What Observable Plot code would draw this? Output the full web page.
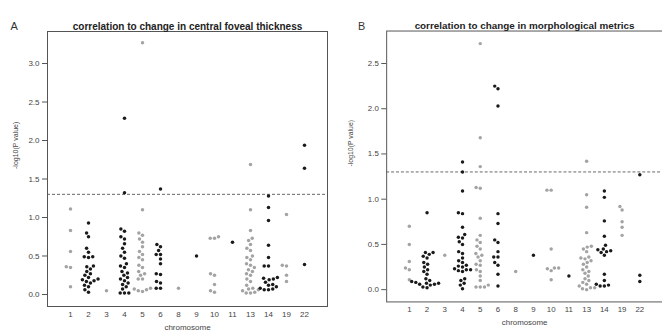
<!DOCTYPE html>
<html>
<head>
<meta charset="utf-8">
<script src="https://cdn.jsdelivr.net/npm/d3@7"></script>
<script src="https://cdn.jsdelivr.net/npm/@observablehq/plot@0.6"></script>
<style>
  html, body { margin: 0; padding: 0; background: #fff; overflow: hidden; }
  #wrap { display: flex; width: 662px; height: 331px; overflow: hidden; }
  .panel { flex: none; position: relative; height: 331px; overflow: hidden; }
  .panel svg { position: absolute; left: 0; top: 0; }
</style>
</head>
<body>
<div id="wrap"><div class="panel" id="a"></div><div class="panel" id="b"></div></div>
<script>
const chromosomes = ["1","2","3","4","5","6","8","9","10","11","13","14","19","22"];
const shades = ["#a3a3a3","#1a1a1a","#a3a3a3","#1a1a1a","#a3a3a3","#1a1a1a","#a3a3a3","#1a1a1a","#a3a3a3","#1a1a1a","#a3a3a3","#1a1a1a","#a3a3a3","#1a1a1a"];

// Panel A: -log10(P) for correlation to change in central foveal thickness, per chromosome
const cftValues = [
  [1.11, 0.83, 0.56, 0.36, 0.35, 0.10],
  [0.93, 0.80, 0.75, 0.60, 0.55, 0.49, 0.49, 0.48, 0.37, 0.36, 0.33, 0.30, 0.27, 0.25, 0.22, 0.20, 0.19, 0.18, 0.17, 0.15, 0.12, 0.10, 0.06, 0.03],
  [0.05],
  [2.29, 1.32, 0.85, 0.82, 0.75, 0.72, 0.66, 0.60, 0.55, 0.50, 0.47, 0.40, 0.37, 0.35, 0.30, 0.28, 0.25, 0.22, 0.20, 0.18, 0.15, 0.13, 0.10, 0.07, 0.02, 0.02, 0.02],
  [3.27, 1.10, 0.80, 0.77, 0.72, 0.68, 0.62, 0.56, 0.52, 0.48, 0.45, 0.38, 0.35, 0.30, 0.27, 0.25, 0.20, 0.20, 0.08, 0.07, 0.06, 0.05, 0.04],
  [1.37, 0.65, 0.62, 0.57, 0.52, 0.52, 0.46, 0.40, 0.27, 0.26, 0.17, 0.15, 0.08, 0.08],
  [0.08],
  [0.50],
  [0.75, 0.73, 0.73, 0.27, 0.25, 0.13, 0.05, 0.03],
  [0.68],
  [1.69, 1.10, 0.83, 0.73, 0.70, 0.65, 0.60, 0.57, 0.50, 0.48, 0.45, 0.40, 0.38, 0.35, 0.32, 0.30, 0.27, 0.25, 0.20, 0.17, 0.12, 0.08, 0.07, 0.06, 0.05, 0.03, 0.02, 0.02],
  [1.28, 1.13, 0.96, 0.64, 0.48, 0.37, 0.37, 0.22, 0.21, 0.20, 0.19, 0.16, 0.13, 0.12, 0.10, 0.08, 0.07, 0.06, 0.06],
  [1.04, 0.38, 0.37, 0.25, 0.17],
  [1.94, 1.64, 0.39]
];

// Panel B: -log10(P) for correlation to change in morphological metrics, per chromosome
const morphValues = [
  [0.70, 0.50, 0.31, 0.24, 0.22, 0.11],
  [0.85, 0.41, 0.41, 0.39, 0.37, 0.35, 0.30, 0.28, 0.25, 0.22, 0.20, 0.17, 0.12, 0.10, 0.09, 0.08, 0.07, 0.07, 0.06, 0.06, 0.05, 0.03, 0.02],
  [0.38],
  [1.41, 1.30, 1.09, 0.85, 0.84, 0.69, 0.61, 0.58, 0.57, 0.53, 0.50, 0.42, 0.40, 0.35, 0.32, 0.30, 0.27, 0.26, 0.25, 0.23, 0.22, 0.22, 0.21, 0.20, 0.12, 0.10, 0.07, 0.05, 0.01],
  [2.72, 1.68, 1.36, 1.13, 1.12, 0.79, 0.60, 0.55, 0.52, 0.48, 0.45, 0.40, 0.38, 0.36, 0.32, 0.28, 0.27, 0.22, 0.20, 0.15, 0.10, 0.05, 0.03, 0.03, 0.03],
  [2.25, 2.22, 2.03, 0.84, 0.73, 0.55, 0.52, 0.42, 0.36, 0.36, 0.30, 0.27, 0.17, 0.04],
  [0.20],
  [0.38],
  [1.10, 1.10, 0.45, 0.24, 0.24, 0.23, 0.21, 0.11],
  [0.15],
  [1.42, 1.05, 0.91, 0.63, 0.48, 0.47, 0.45, 0.42, 0.36, 0.35, 0.34, 0.32, 0.30, 0.28, 0.25, 0.22, 0.20, 0.18, 0.15, 0.12, 0.10, 0.08, 0.06, 0.04, 0.02, 0.02, 0.01, 0.00],
  [1.09, 1.02, 0.76, 0.59, 0.49, 0.45, 0.44, 0.43, 0.42, 0.41, 0.38, 0.17, 0.10, 0.06, 0.05, 0.04, 0.04],
  [0.92, 0.88, 0.75, 0.69, 0.60],
  [1.27, 0.16, 0.09]
];

const yTicksA = [0, 0.5, 1.0, 1.5, 2.0, 2.5, 3.0];
const yTicksB = [0, 0.5, 1.0, 1.5, 2.0, 2.5];
const threshold = -Math.log10(0.05);

function toRows(values) {
  const rows = [];
  chromosomes.forEach((c, i) => {
    values[i].slice().sort((a, b) => a - b).forEach(v => rows.push({chr: c, v}));
  });
  return rows;
}

const FONT = "'Liberation Sans', Arial, Helvetica, sans-serif";

function panel(el, {values, title, letter, yDomain, yTicks, width, marginLeft, marginRight, letterDx, ylabDx}) {
  const common = {width, height: 331, marginLeft, marginRight, marginTop: 31, marginBottom: 25};
  el.style.width = Math.min(width, 662 - el.offsetLeft) + "px";
  // Base layer: box, y axis, threshold line, titles
  const base = Plot.plot({
    ...common,
    style: {fontFamily: FONT, fontSize: "8px", background: "#fff", color: "#222"},
    y: {domain: yDomain, label: null},
    marks: [
      Plot.ruleY([threshold], {stroke: "#666", strokeDasharray: "3,2", strokeWidth: 1}),
      Plot.frame({stroke: "#555", strokeWidth: 1}),
      Plot.axisY({ticks: yTicks, tickFormat: d3.format(".1f"), tickSize: 5, tickPadding: 3, label: null, stroke: "#555", fill: "#444", fontSize: 8}),
      Plot.text([title], {frameAnchor: "top", dy: -9, fontWeight: "bold", fontSize: 10, fill: "#222"}),
      Plot.text([letter], {frameAnchor: "top-left", dx: letterDx, dy: -9, textAnchor: "start", fontSize: 11, fill: "#333"}),
      Plot.text(["-log10(P value)"], {frameAnchor: "left", dx: ylabDx, rotate: -90, fontSize: 7, fill: "#444"}),
      Plot.text(["chromosome"], {frameAnchor: "bottom", dy: 23, fontSize: 8, fill: "#444"})
    ]
  });
  // Point layer: beeswarm per chromosome via facets
  const pts = Plot.plot({
    ...common,
    style: {fontFamily: FONT, fontSize: "8px", background: "transparent", color: "#222"},
    fx: {domain: chromosomes, paddingInner: 0, paddingOuter: 0.56, label: null},
    y: {domain: yDomain, axis: null},
    color: {domain: chromosomes, range: shades},
    marks: [
      Plot.dot(toRows(values), Plot.dodgeX({anchor: "middle", padding: 0.8}, {fx: "chr", y: "v", r: 1.75, fill: "chr", stroke: "none"})),
      Plot.axisFx({anchor: "bottom", tickSize: 0, tickPadding: 5, label: null, fill: "#444", fontSize: 8})
    ]
  });
  el.append(base, pts);
}

panel(document.getElementById("a"), {
  values: cftValues,
  title: "correlation to change in central foveal thickness",
  letter: "A",
  yDomain: [-0.156, 3.416],
  yTicks: yTicksA,
  width: 331, marginLeft: 47, marginRight: 4,
  letterDx: -37, ylabDx: -32
});

panel(document.getElementById("b"), {
  values: morphValues,
  title: "correlation to change in morphological metrics",
  letter: "B",
  yDomain: [-0.136, 2.859],
  yTicks: yTicksB,
  width: 336, marginLeft: 56, marginRight: 0,
  letterDx: -29, ylabDx: -36
});
</script>
</body>
</html>
